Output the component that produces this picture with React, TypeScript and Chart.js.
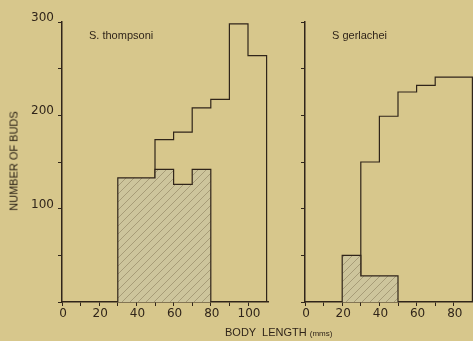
import React, { useEffect, useRef } from 'react';
import { Chart, registerables } from 'chart.js';

Chart.register(...registerables);

// Body-length classes (mm) and counts for each species
const thompsoniEdges = [50, 60, 70, 80, 90, 100, 110];
const thompsoniTotal = [174, 182, 208, 217, 298, 264];
const thompsoniBudEdges = [30, 50, 60, 70, 80];
const thompsoniBuds = [133, 142, 126, 142];

const gerlacheiEdges = [30, 40, 50, 60, 70, 90];
const gerlacheiTotal = [150, 199, 225, 232, 241];
const gerlacheiBudEdges = [20, 30, 50];
const gerlacheiBuds = [50, 28];

const xTickLabels = [0, 20, 40, 60, 80, 100];
const yTickLabels = [100, 200, 300];

const BG = '#d7c78c';
const INK = '#30251a';
const HATCH_BASE = '#cdc59c';
const PX_PER_UNIT = 1.86;

type Pt = { x: number; y: number };

// Turn class edges + counts into the outline of a histogram
function stepPoints(edges: number[], counts: number[]): Pt[] {
  const pts: Pt[] = [{ x: edges[0], y: 0 }];
  counts.forEach((c, i) => {
    pts.push({ x: edges[i], y: c });
    pts.push({ x: edges[i + 1], y: c });
  });
  pts.push({ x: edges[edges.length - 1], y: 0 });
  return pts;
}

function makeHatch(): CanvasPattern | string {
  const n = 8;
  const c = document.createElement('canvas');
  c.width = n;
  c.height = n;
  const g = c.getContext('2d');
  if (!g) return HATCH_BASE;
  g.fillStyle = HATCH_BASE;
  g.fillRect(0, 0, n, n);
  g.strokeStyle = 'rgba(85,70,40,0.4)';
  g.lineWidth = 0.8;
  g.beginPath();
  g.moveTo(0, n);
  g.lineTo(n, 0);
  g.stroke();
  return g.createPattern(c, 'repeat') || HATCH_BASE;
}

type PanelProps = {
  left: number;
  width: number;
  yAxisWidth: number;
  showYLabels: boolean;
  edges: number[];
  totals: number[];
  budEdges: number[];
  buds: number[];
};

function Panel({ left, width, yAxisWidth, showYLabels, edges, totals, budEdges, buds }: PanelProps) {
  const ref = useRef<HTMLCanvasElement>(null);

  useEffect(() => {
    const canvas = ref.current;
    if (!canvas) return;
    const xMax = (width - yAxisWidth) / PX_PER_UNIT;
    const tickFont = { family: 'DejaVu Sans', size: 12 };
    const chart = new Chart(canvas, {
      type: 'line',
      data: {
        datasets: [
          {
            data: stepPoints(budEdges, buds),
            borderColor: INK,
            borderWidth: 1.2,
            backgroundColor: makeHatch() as any,
            fill: 'origin',
            pointRadius: 0,
            tension: 0,
          },
          {
            data: stepPoints(edges, totals),
            borderColor: INK,
            borderWidth: 1.2,
            fill: false,
            pointRadius: 0,
            tension: 0,
          },
        ],
      },
      options: {
        responsive: false,
        animation: false,
        devicePixelRatio: 1,
        layout: { padding: { top: 22, left: 0, right: 0, bottom: 0 } },
        plugins: { legend: { display: false }, tooltip: { enabled: false } },
        scales: {
          x: {
            type: 'linear',
            min: 0,
            max: xMax,
            border: { display: true, color: INK, width: 1.5 },
            grid: { drawOnChartArea: false, drawTicks: true, tickLength: 4, color: INK, lineWidth: 1 },
            ticks: {
              stepSize: 10,
              autoSkip: false,
              maxRotation: 0,
              color: INK,
              padding: 1,
              labelOffset: 1,
              font: tickFont,
              callback: (v: any) => (xTickLabels.includes(Number(v)) ? String(v) : ''),
            },
            afterBuildTicks: (s: any) => {
              s.ticks = s.ticks.filter((t: any) => t.value % 10 === 0);
            },
            afterFit: (s: any) => {
              s.height = 39;
            },
          },
          y: {
            type: 'linear',
            min: 0,
            max: 300,
            border: { display: true, color: INK, width: 1.5 },
            grid: { drawOnChartArea: false, drawTicks: true, tickLength: 4, color: INK, lineWidth: 1 },
            ticks: {
              stepSize: 50,
              autoSkip: false,
              color: INK,
              padding: 4,
              labelOffset: -4,
              font: tickFont,
              callback: (v: any) => (showYLabels && yTickLabels.includes(Number(v)) ? String(v) : ''),
            },
            afterFit: (s: any) => {
              s.width = yAxisWidth;
            },
          },
        },
      },
    });
    return () => chart.destroy();
  }, []);

  return (
    <canvas
      ref={ref}
      width={width}
      height={341}
      style={{ position: 'absolute', left, top: 0, width, height: 341 }}
    />
  );
}

const textStyle: React.CSSProperties = {
  position: 'absolute',
  fontFamily: '"Liberation Sans", Arial, sans-serif',
  color: INK,
  lineHeight: 1,
  whiteSpace: 'pre',
};

export default function App() {
  return (
    <div
      style={{
        position: 'fixed',
        left: 0,
        top: 0,
        width: 473,
        height: 341,
        background: BG,
        overflow: 'hidden',
      }}
    >
      <Panel
        left={0}
        width={269}
        yAxisWidth={62}
        showYLabels={true}
        edges={thompsoniEdges}
        totals={thompsoniTotal}
        budEdges={thompsoniBudEdges}
        buds={thompsoniBuds}
      />
      <Panel
        left={280}
        width={193}
        yAxisWidth={25}
        showYLabels={false}
        edges={gerlacheiEdges}
        totals={gerlacheiTotal}
        budEdges={gerlacheiBudEdges}
        buds={gerlacheiBuds}
      />
      <div style={{ ...textStyle, left: 89, top: 30, fontSize: 11 }}>S. thompsoni</div>
      <div style={{ ...textStyle, left: 332, top: 30, fontSize: 11 }}>S gerlachei</div>
      <div
        style={{
          ...textStyle,
          left: 14,
          top: 161,
          fontSize: 11,
          color: '#241b10',
          transform: 'translate(-50%, -50%) rotate(-90deg)',
        }}
      >
        NUMBER OF BUDS
      </div>
      <div style={{ ...textStyle, left: 225, top: 327, fontSize: 11 }}>
        {'BODY  LENGTH '}
        <span style={{ fontSize: 8 }}>(mms)</span>
      </div>
    </div>
  );
}
